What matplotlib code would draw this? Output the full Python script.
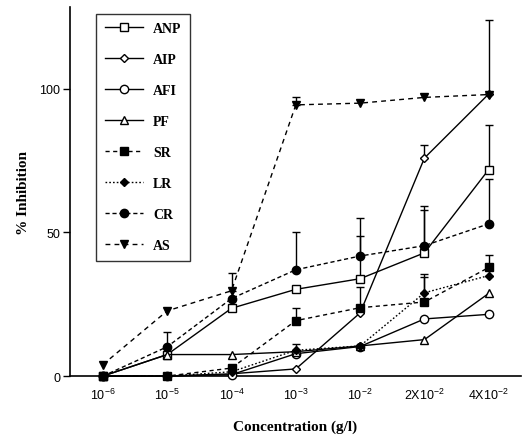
import numpy as np
import matplotlib
matplotlib.use("Agg")
import matplotlib.pyplot as plt

plt.rcParams['mathtext.default'] = 'regular'

x_labels = [r'$10^{-6}$', r'$10^{-5}$', r'$10^{-4}$', r'$10^{-3}$', r'$10^{-2}$',
            r'2X$10^{-2}$', r'4X$10^{-2}$']

anp = [0, 7.5, 23.6, 30.2, 33.9, 42.9, 71.9]
aip = [0, 0, 0.8, 2.5, 22.0, 75.9, 98.2]
afi = [0, 0, 0.5, 7.8, 10.3, 19.9, 21.5]
pf = [0, 7.5, 7.5, 8.5, 10.5, 12.7, 28.8]
sr = [0, 0, 2.8, 19.3, 23.8, 25.8, 37.8]
lr = [0, 0, 1.5, 9.0, 10.5, 29.0, 35.0]
cr = [0, 10.2, 27.0, 37.0, 41.8, 45.4, 53.0]
as_ = [4.0, 22.7, 29.7, 94.4, 95.0, 97.0, 98.0]

# upper error only
anp_err = [0, 0, 0, 0, 15.0, 15.0, 15.6]
aip_err = [0, 0, 0, 0, 0, 4.6, 25.8]
afi_err = [0, 0, 0, 3.2, 0, 0, 0]
pf_err = [0, 0, 0, 0, 0, 0, 0]
sr_err = [0, 0, 0, 4.4, 7.1, 9.7, 4.2]
lr_err = [0, 0, 0, 0, 0, 5.4, 2.0]
cr_err = [0, 5.2, 0, 13.0, 13.2, 13.9, 15.6]
as_err = [0, 0, 6.3, 2.6, 0, 0, 0]

series = [
    ("ANP", anp, anp_err, 's', 'white', '-'),
    ("AIP", aip, aip_err, 'D', 'white', '-'),
    ("AFI", afi, afi_err, 'o', 'white', '-'),
    ("PF", pf, pf_err, '^', 'white', '-'),
    ("SR", sr, sr_err, 's', 'black', (0, (3, 2.5))),
    ("LR", lr, lr_err, 'D', 'black', (0, (1.2, 1.5))),
    ("CR", cr, cr_err, 'o', 'black', (0, (3, 2))),
    ("AS", as_, as_err, 'v', 'black', (0, (3.5, 3))),
]

fig = plt.figure(figsize=(5.23, 4.39), dpi=100)
ax = fig.add_axes([0.134, 0.141, 0.862, 0.841])

x = np.arange(len(x_labels))
handles = []
for name, y, err, mk, fc, ls in series:
    y = np.array(y)
    err = np.array(err)
    idx = err > 0
    if idx.any():
        ax.errorbar(x[idx], y[idx], yerr=[np.zeros(idx.sum()), err[idx]],
                    fmt='none', ecolor='black', elinewidth=1.0, capsize=3,
                    capthick=1.0, zorder=2, clip_on=False)
    ms = 4.5 if mk == 'D' else 6
    h, = ax.plot(x, y, linestyle=ls, color='black', linewidth=1.0,
                 marker=mk, markersize=ms, markerfacecolor=fc,
                 markeredgecolor='black', markeredgewidth=1.0,
                 label=name, zorder=3, clip_on=False)
    handles.append(h)

ax.set_xlim(-0.51, 6.5)
ax.set_ylim(0, 128.5)
ax.spines['top'].set_visible(False)
ax.spines['right'].set_visible(False)
ax.spines['left'].set_linewidth(1.2)
ax.spines['bottom'].set_linewidth(1.2)

ax.set_xticks(x)
ax.set_xticklabels(x_labels, fontsize=9, family='Liberation Sans')
ax.tick_params(axis='x', length=0, pad=8)
ax.set_yticks([0, 50, 100])
ax.set_yticklabels(['0', '50', '100'], fontsize=9, family='Liberation Sans')
ax.tick_params(axis='y', length=5, width=1, direction='out', pad=2)

ax.set_xlabel("Concentration (g/l)", fontsize=11, fontweight='bold',
              family='Liberation Serif', labelpad=12)
ax.set_ylabel("% Inhibition", fontsize=11, fontweight='bold',
              family='Liberation Serif', labelpad=7)

leg = ax.legend(handles=handles, loc='upper left', bbox_to_anchor=(0.058, 0.982),
                frameon=True, fancybox=False, edgecolor='black',
                prop={'family': 'Liberation Serif', 'weight': 'bold', 'size': 10},
                handlelength=2.8, handletextpad=0.7, labelspacing=1.3,
                borderpad=0.6, borderaxespad=0)
leg.get_frame().set_linewidth(1.0)

fig.savefig("out.png", dpi=100)
